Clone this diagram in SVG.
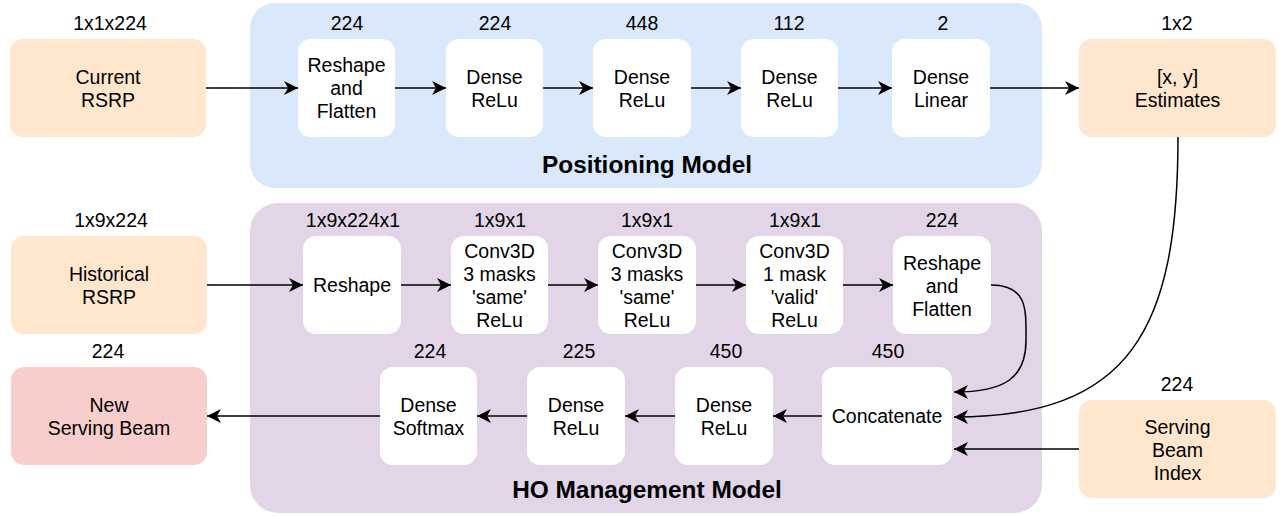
<svg xmlns="http://www.w3.org/2000/svg" width="1283" height="516" viewBox="0 0 1283 516">
<style>
  text { font-family: "Liberation Sans", Arial, sans-serif; font-size: 19.5px; fill: #000; text-anchor: middle; }
  .title { font-weight: bold; font-size: 24.4px; }
  .io { fill: #ffe6cc; }
  .out { fill: #f8cecc; }
  .layer { fill: #ffffff; }
  .conn { fill: none; stroke: #000; stroke-width: 1.5; marker-end: url(#arr); }
</style>
<defs>
  <marker id="arr" markerUnits="userSpaceOnUse" markerWidth="16" markerHeight="16" viewBox="-1 -8 16 16" refX="14" refY="0" orient="auto">
    <path d="M0,-7 L14,0 L0,7 L4,0 z" fill="#000"/>
  </marker>
</defs>

<g id="positioning-model">
  <rect x="250" y="3" width="792" height="185" rx="25" fill="#dae8fc"/>
  <text class="title" x="647" y="173">Positioning Model</text>
</g>
<g id="ho-model">
  <rect x="250" y="203" width="792" height="310" rx="28" fill="#e1d5e7"/>
  <text class="title" x="647" y="498">HO Management Model</text>
</g>

<g id="current-rsrp">
  <rect class="io" x="10" y="39" width="196" height="98" rx="13"/>
  <text x="110" y="30">1x1x224</text>
  <text x="108" y="84">Current</text>
  <text x="108" y="107">RSRP</text>
</g>
<g id="p-reshape">
  <rect class="layer" x="298" y="39" width="97" height="98" rx="13"/>
  <text x="347" y="30">224</text>
  <text x="346.5" y="72">Reshape</text>
  <text x="346.5" y="95">and</text>
  <text x="346.5" y="118">Flatten</text>
</g>
<g id="p-dense1">
  <rect class="layer" x="446" y="39" width="97" height="98" rx="13"/>
  <text x="495" y="30">224</text>
  <text x="494.5" y="84">Dense</text>
  <text x="494.5" y="107">ReLu</text>
</g>
<g id="p-dense2">
  <rect class="layer" x="593" y="39" width="98" height="98" rx="13"/>
  <text x="642" y="30">448</text>
  <text x="642" y="84">Dense</text>
  <text x="642" y="107">ReLu</text>
</g>
<g id="p-dense3">
  <rect class="layer" x="741" y="39" width="97" height="98" rx="13"/>
  <text x="789" y="30">112</text>
  <text x="789.5" y="84">Dense</text>
  <text x="789.5" y="107">ReLu</text>
</g>
<g id="p-dense4">
  <rect class="layer" x="892" y="39" width="98" height="98" rx="13"/>
  <text x="943" y="30">2</text>
  <text x="941" y="84">Dense</text>
  <text x="941" y="107">Linear</text>
</g>
<g id="estimates">
  <rect class="io" x="1079" y="39" width="197" height="98" rx="13"/>
  <text x="1177" y="30">1x2</text>
  <text x="1177.5" y="84">[x, y]</text>
  <text x="1177.5" y="107">Estimates</text>
</g>

<g id="historical-rsrp">
  <rect class="io" x="11" y="236" width="196" height="98" rx="13"/>
  <text x="111" y="227">1x9x224</text>
  <text x="109" y="281">Historical</text>
  <text x="109" y="304">RSRP</text>
</g>
<g id="h-reshape">
  <rect class="layer" x="303" y="236" width="98" height="98" rx="13"/>
  <text x="353" y="227">1x9x224x1</text>
  <text x="352" y="292">Reshape</text>
</g>
<g id="conv1">
  <rect class="layer" x="451" y="236" width="97" height="98" rx="13"/>
  <text x="500" y="227">1x9x1</text>
  <text x="499.5" y="258">Conv3D</text>
  <text x="499.5" y="281">3 masks</text>
  <text x="499.5" y="304">'same'</text>
  <text x="499.5" y="327">ReLu</text>
</g>
<g id="conv2">
  <rect class="layer" x="598" y="236" width="98" height="98" rx="13"/>
  <text x="647" y="227">1x9x1</text>
  <text x="647" y="258">Conv3D</text>
  <text x="647" y="281">3 masks</text>
  <text x="647" y="304">'same'</text>
  <text x="647" y="327">ReLu</text>
</g>
<g id="conv3">
  <rect class="layer" x="746" y="236" width="97" height="98" rx="13"/>
  <text x="795" y="227">1x9x1</text>
  <text x="794.5" y="258">Conv3D</text>
  <text x="794.5" y="281">1 mask</text>
  <text x="794.5" y="304">'valid'</text>
  <text x="794.5" y="327">ReLu</text>
</g>
<g id="h-reshape-flatten">
  <rect class="layer" x="893" y="236" width="98" height="98" rx="13"/>
  <text x="942" y="227">224</text>
  <text x="942" y="270">Reshape</text>
  <text x="942" y="293">and</text>
  <text x="942" y="316">Flatten</text>
</g>
<g id="concatenate">
  <rect class="layer" x="822" y="367" width="130" height="98" rx="13"/>
  <text x="888" y="358">450</text>
  <text x="887" y="423">Concatenate</text>
</g>
<g id="h-dense450">
  <rect class="layer" x="675" y="367" width="98" height="98" rx="13"/>
  <text x="726" y="358">450</text>
  <text x="724" y="412">Dense</text>
  <text x="724" y="435">ReLu</text>
</g>
<g id="h-dense225">
  <rect class="layer" x="527" y="367" width="98" height="98" rx="13"/>
  <text x="579" y="358">225</text>
  <text x="576" y="412">Dense</text>
  <text x="576" y="435">ReLu</text>
</g>
<g id="h-softmax">
  <rect class="layer" x="380" y="367" width="97" height="98" rx="13"/>
  <text x="430" y="358">224</text>
  <text x="428.5" y="412">Dense</text>
  <text x="428.5" y="435">Softmax</text>
</g>
<g id="new-serving-beam">
  <rect class="out" x="11" y="367" width="196" height="98" rx="13"/>
  <text x="108" y="358">224</text>
  <text x="109" y="412">New</text>
  <text x="109" y="435">Serving Beam</text>
</g>
<g id="serving-beam-index">
  <rect class="io" x="1079" y="400" width="197" height="98" rx="13"/>
  <text x="1177" y="391">224</text>
  <text x="1177.5" y="434">Serving</text>
  <text x="1177.5" y="457">Beam</text>
  <text x="1177.5" y="480">Index</text>
</g>

<g id="connectors">
  <path class="conn" d="M206,88 L298,88"/>
  <path class="conn" d="M395,88 L446,88"/>
  <path class="conn" d="M543,88 L593,88"/>
  <path class="conn" d="M691,88 L741,88"/>
  <path class="conn" d="M838,88 L892,88"/>
  <path class="conn" d="M990,88 L1079,88"/>

  <path class="conn" d="M207,285 L303,285"/>
  <path class="conn" d="M401,285 L451,285"/>
  <path class="conn" d="M548,285 L598,285"/>
  <path class="conn" d="M696,285 L746,285"/>
  <path class="conn" d="M843,285 L893,285"/>

  <path class="conn" d="M991,285 C1028,285 1026,310 1026,340 C1026,378 1005,392 954,392"/>
  <path class="conn" d="M1178,137 C1178,330 1130,417 954,417"/>
  <path class="conn" d="M1079,449 L954,449"/>

  <path class="conn" d="M822,416 L773,416"/>
  <path class="conn" d="M675,416 L625,416"/>
  <path class="conn" d="M527,416 L477,416"/>
  <path class="conn" d="M380,416 L207,416"/>
</g>
</svg>
